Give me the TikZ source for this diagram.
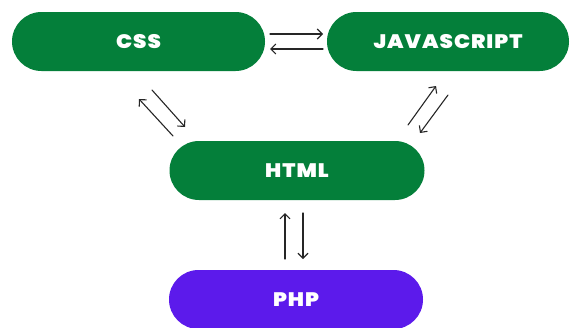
\documentclass[tikz,border=0pt]{standalone}
\usepackage{fontspec}
\newfontfamily\labelfont{Poppins Black}[LetterSpace=5,FakeStretch=1.1]
\usetikzlibrary{arrows.meta}
\definecolor{webgreen}{RGB}{4,127,58}
\definecolor{webpurple}{RGB}{92,26,235}
\tikzset{
  pill/.style={fill=#1, draw=none, rounded corners=29.5pt, minimum height=59pt,
    inner sep=0pt, text=white, font=\labelfont\fontsize{19.5}{19.5}\selectfont},
  link/.style={line width=1.1pt, black!85, line cap=round,
    -{Straight Barb[length=5pt,width=10pt,line width=1.1pt]}}
}
\begin{document}
\begin{tikzpicture}[x=1pt,y=-1pt]
  \useasboundingbox (0,0) rectangle (570,327);
  % technology boxes
  \node[pill=webgreen, minimum width=253pt] (css) at (138.5,41.5) {CSS};
  \node[pill=webgreen, minimum width=242pt] (js) at (448,41.5) {JAVASCRIPT};
  \node[pill=webgreen, minimum width=255pt] (html) at (297,170.5) {HTML};
  \node[pill=webpurple, minimum width=254pt] (php) at (296,299.5) {PHP};
  % arrow end points
  \coordinate (cjA) at (270,34);  \coordinate (cjB) at (323,34);
  \coordinate (jcA) at (323,49);  \coordinate (jcB) at (270,49);
  \coordinate (hcA) at (173,136); \coordinate (hcB) at (139,99);
  \coordinate (chA) at (152,90);  \coordinate (chB) at (185,127);
  \coordinate (hjA) at (408,125); \coordinate (hjB) at (436,86);
  \coordinate (jhA) at (448,95);  \coordinate (jhB) at (420,133);
  \coordinate (phA) at (285,259); \coordinate (phB) at (285,213);
  \coordinate (hpA) at (303,213); \coordinate (hpB) at (303,259);
  % two-way links
  \draw[link] (cjA) -- (cjB);
  \draw[link] (jcA) -- (jcB);
  \draw[link] (hcA) -- (hcB);
  \draw[link] (chA) -- (chB);
  \draw[link] (hjA) -- (hjB);
  \draw[link] (jhA) -- (jhB);
  \draw[link] (phA) -- (phB);
  \draw[link] (hpA) -- (hpB);
\end{tikzpicture}
\end{document}
